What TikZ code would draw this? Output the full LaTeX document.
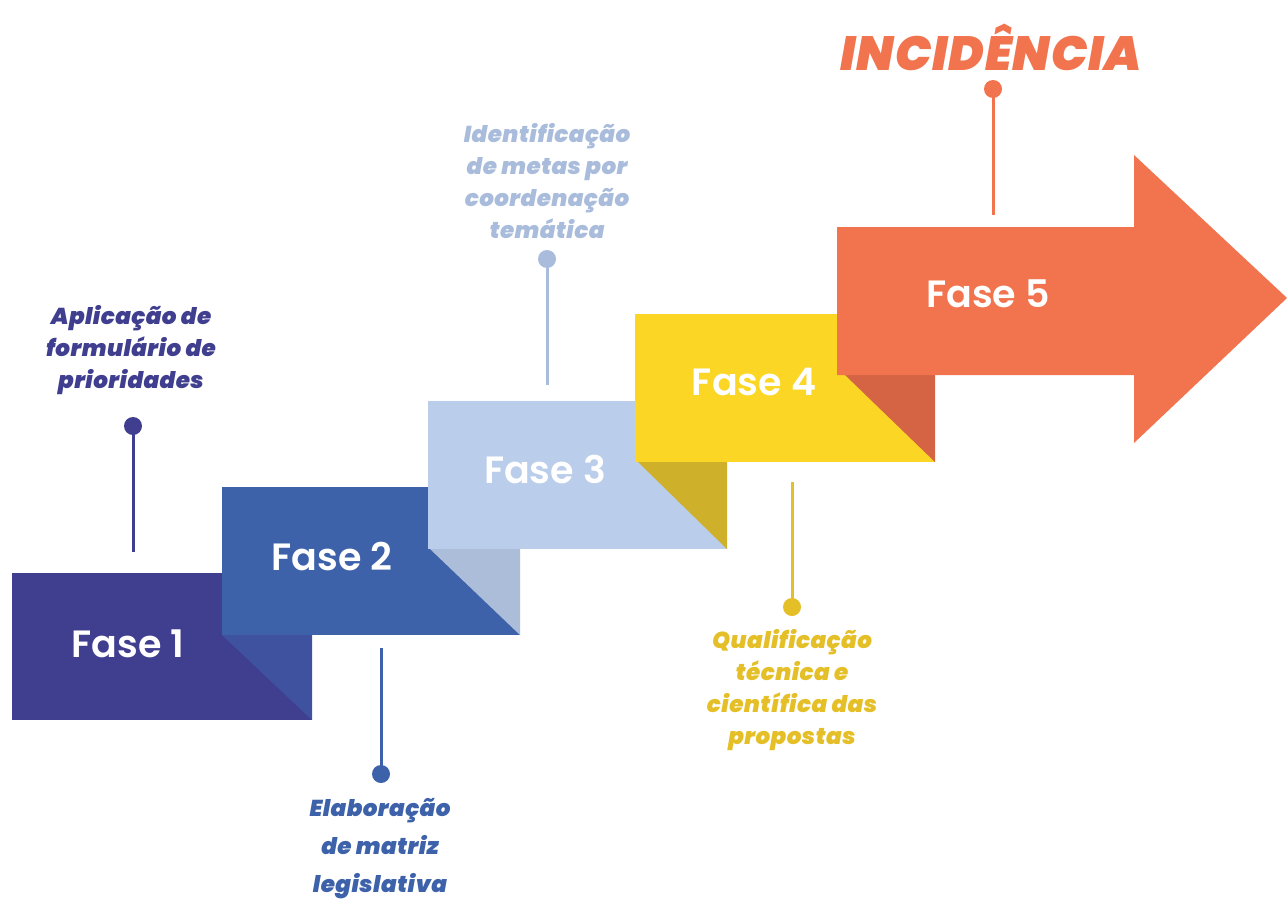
\documentclass[tikz,border=0pt]{standalone}
\usepackage{fontspec}
\setmainfont{Poppins}
\newfontfamily\heavyit{Poppins Black Italic}[LetterSpace=2]
\newfontfamily\semib{Poppins SemiBold}
\begin{document}
\definecolor{cA}{HTML}{403F8F}
\definecolor{cB}{HTML}{3D62AA}
\definecolor{cC}{HTML}{BACDEA}
\definecolor{cD}{HTML}{FBD624}
\definecolor{cE}{HTML}{F1744F}
\definecolor{sA}{HTML}{3E52A0}
\definecolor{sB}{HTML}{ABBDD9}
\definecolor{sC}{HTML}{CFB02A}
\definecolor{sD}{HTML}{D56445}
\definecolor{tC}{HTML}{A9BCDB}
\definecolor{tD}{HTML}{E5BF27}
\begin{tikzpicture}[x=1pt,y=-1pt,
  faselabel/.style={text=white,font=\semib\fontsize{38}{38}\selectfont,anchor=base,inner sep=0pt},
  note/.style={align=center,font=\heavyit\fontsize{23}{32}\selectfont,inner sep=0pt},
  pin/.style={circle,fill=#1,minimum size=18pt,inner sep=0pt},
  stem/.style={draw=#1,line width=3pt}]
\useasboundingbox (0,0) rectangle (1287,899);

% phase 1 block and its shadow fold
\fill[cA] (12,573) rectangle (312,720);
\fill[sA] (222,635) -- (312,635) -- (312,720) -- cycle;
% phase 2
\fill[cB] (222,487) rectangle (520,635);
\fill[sB] (430,549) -- (520,549) -- (520,635) -- cycle;
% phase 3
\fill[cC] (428,401) rectangle (727,549);
\fill[sC] (638,462) -- (727,462) -- (727,549) -- cycle;
% phase 4
\fill[cD] (635,314) rectangle (935,462);
\fill[sD] (845,375) -- (935,375) -- (935,462) -- cycle;
% phase 5: the arrow
\fill[cE] (837,227) -- (1134,227) -- (1134,155) -- (1287,298)
  -- (1134,443) -- (1134,375) -- (837,375) -- cycle;

\node[faselabel] (f1) at (128,657) {Fase 1};
\node[faselabel] (f2) at (332,570) {Fase 2};
\node[faselabel] (f3) at (545,483) {Fase 3};
\node[faselabel] (f4) at (754,395) {Fase 4};
\node[faselabel] (f5) at (988,307) {Fase 5};

% phase 1 note
\node[pin=cA] (p1) at (133,426) {};
\coordinate (e1) at (133,552);
\draw[stem=cA] (p1.center) -- (e1);
\node[note,text=cA] (n1) at (131,350) {Aplicação de\\formulário de\\prioridades};

% phase 2 note
\node[pin=cB] (p2) at (381,774) {};
\coordinate (e2) at (381,648);
\draw[stem=cB] (p2.center) -- (e2);
\node[note,text=cB,font=\heavyit\fontsize{23}{38}\selectfont] (n2) at (380,849) {Elaboração\\de matriz\\legislativa};

% phase 3 note
\node[pin=tC] (p3) at (547,259) {};
\coordinate (e3) at (547,385);
\draw[stem=tC] (p3.center) -- (e3);
\node[note,text=tC] (n3) at (547,181) {Identificação\\de metas por\\coordenação\\temática};

% phase 4 note
\node[pin=tD] (p4) at (792,607) {};
\coordinate (e4) at (792,482);
\draw[stem=tD] (p4.center) -- (e4);
\node[note,text=tD] (n4) at (792,690) {Qualificação\\técnica e\\científica das\\propostas};

% phase 5 headline
\node[pin=cE] (p5) at (993,89) {};
\coordinate (e5) at (993,215);
\draw[stem=cE] (p5.center) -- (e5);
\node[text=cE,font=\heavyit\fontsize{48}{48}\selectfont,inner sep=0pt] (n5) at (991,47) {INCIDÊNCIA};
\end{tikzpicture}
\end{document}
